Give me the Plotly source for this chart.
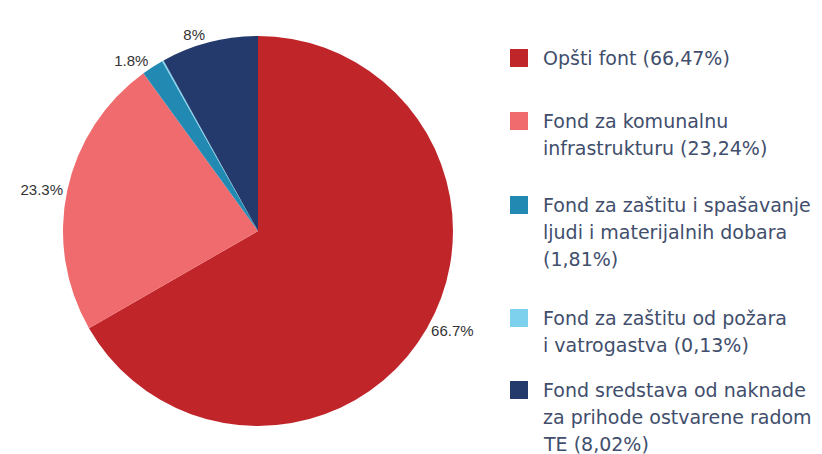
import plotly.graph_objects as go

# Data
categories = [
    "Opšti font (66,47%)",
    "Fond za komunalnu<br>infrastrukturu (23,24%)",
    "Fond za zaštitu i spašavanje<br>ljudi i materijalnih dobara<br>(1,81%)",
    "Fond za zaštitu od požara<br>i vatrogastva (0,13%)",
    "Fond sredstava od naknade<br>za prihode ostvarene radom<br>TE (8,02%)",
]
values = [66.47, 23.24, 1.81, 0.13, 8.02]
slice_labels = ["66.7%", "23.3%", "1.8%", "", "8%"]
colors = ["#c0252a", "#ef6b6d", "#2289b3", "#7dd1ec", "#243a6c"]

W, H = 822, 454

fig = go.Figure()
fig.add_trace(go.Pie(
    values=values,
    labels=[c.replace("<br>", " ") for c in categories],
    text=slice_labels,
    textinfo="text",
    textposition="outside",
    textfont=dict(family="Liberation Sans, Arial, sans-serif", size=15, color="#333333"),
    marker=dict(colors=colors, line=dict(width=0)),
    sort=False,
    direction="clockwise",
    rotation=0,
    hoverinfo="none",
    showlegend=False,
    domain=dict(x=[63 / W, 453 / W], y=[(H - 426) / H, (H - 36) / H]),
))

# Manual legend (layout, built from the category/color arrays)
legend_font = dict(family="DejaVu Sans, sans-serif", size=19, color="#414e6c")
block_tops = [58, 121, 205, 318, 390]
line_gap = 27
sq = 18
for cat, col, top in zip(categories, colors, block_tops):
    fig.add_shape(type="rect", xref="paper", yref="paper",
                  x0=510 / W, x1=(510 + sq) / W,
                  y0=1 - (top + sq / 2) / H, y1=1 - (top - sq / 2) / H,
                  fillcolor=col, line=dict(width=0))
    for i, line in enumerate(cat.split("<br>")):
        y = top + i * line_gap
        fig.add_annotation(text=line, xref="paper", yref="paper",
                           x=541 / W, y=1 - y / H, xanchor="left", yanchor="middle",
                           showarrow=False, font=legend_font)

fig.update_layout(
    width=W, height=H,
    margin=dict(l=0, r=0, t=0, b=0),
    paper_bgcolor="white", plot_bgcolor="white",
)

fig.write_html("out.html",
               config={"displayModeBar": False},
               post_script="document.body.style.margin='0';document.body.style.overflow='hidden';")
